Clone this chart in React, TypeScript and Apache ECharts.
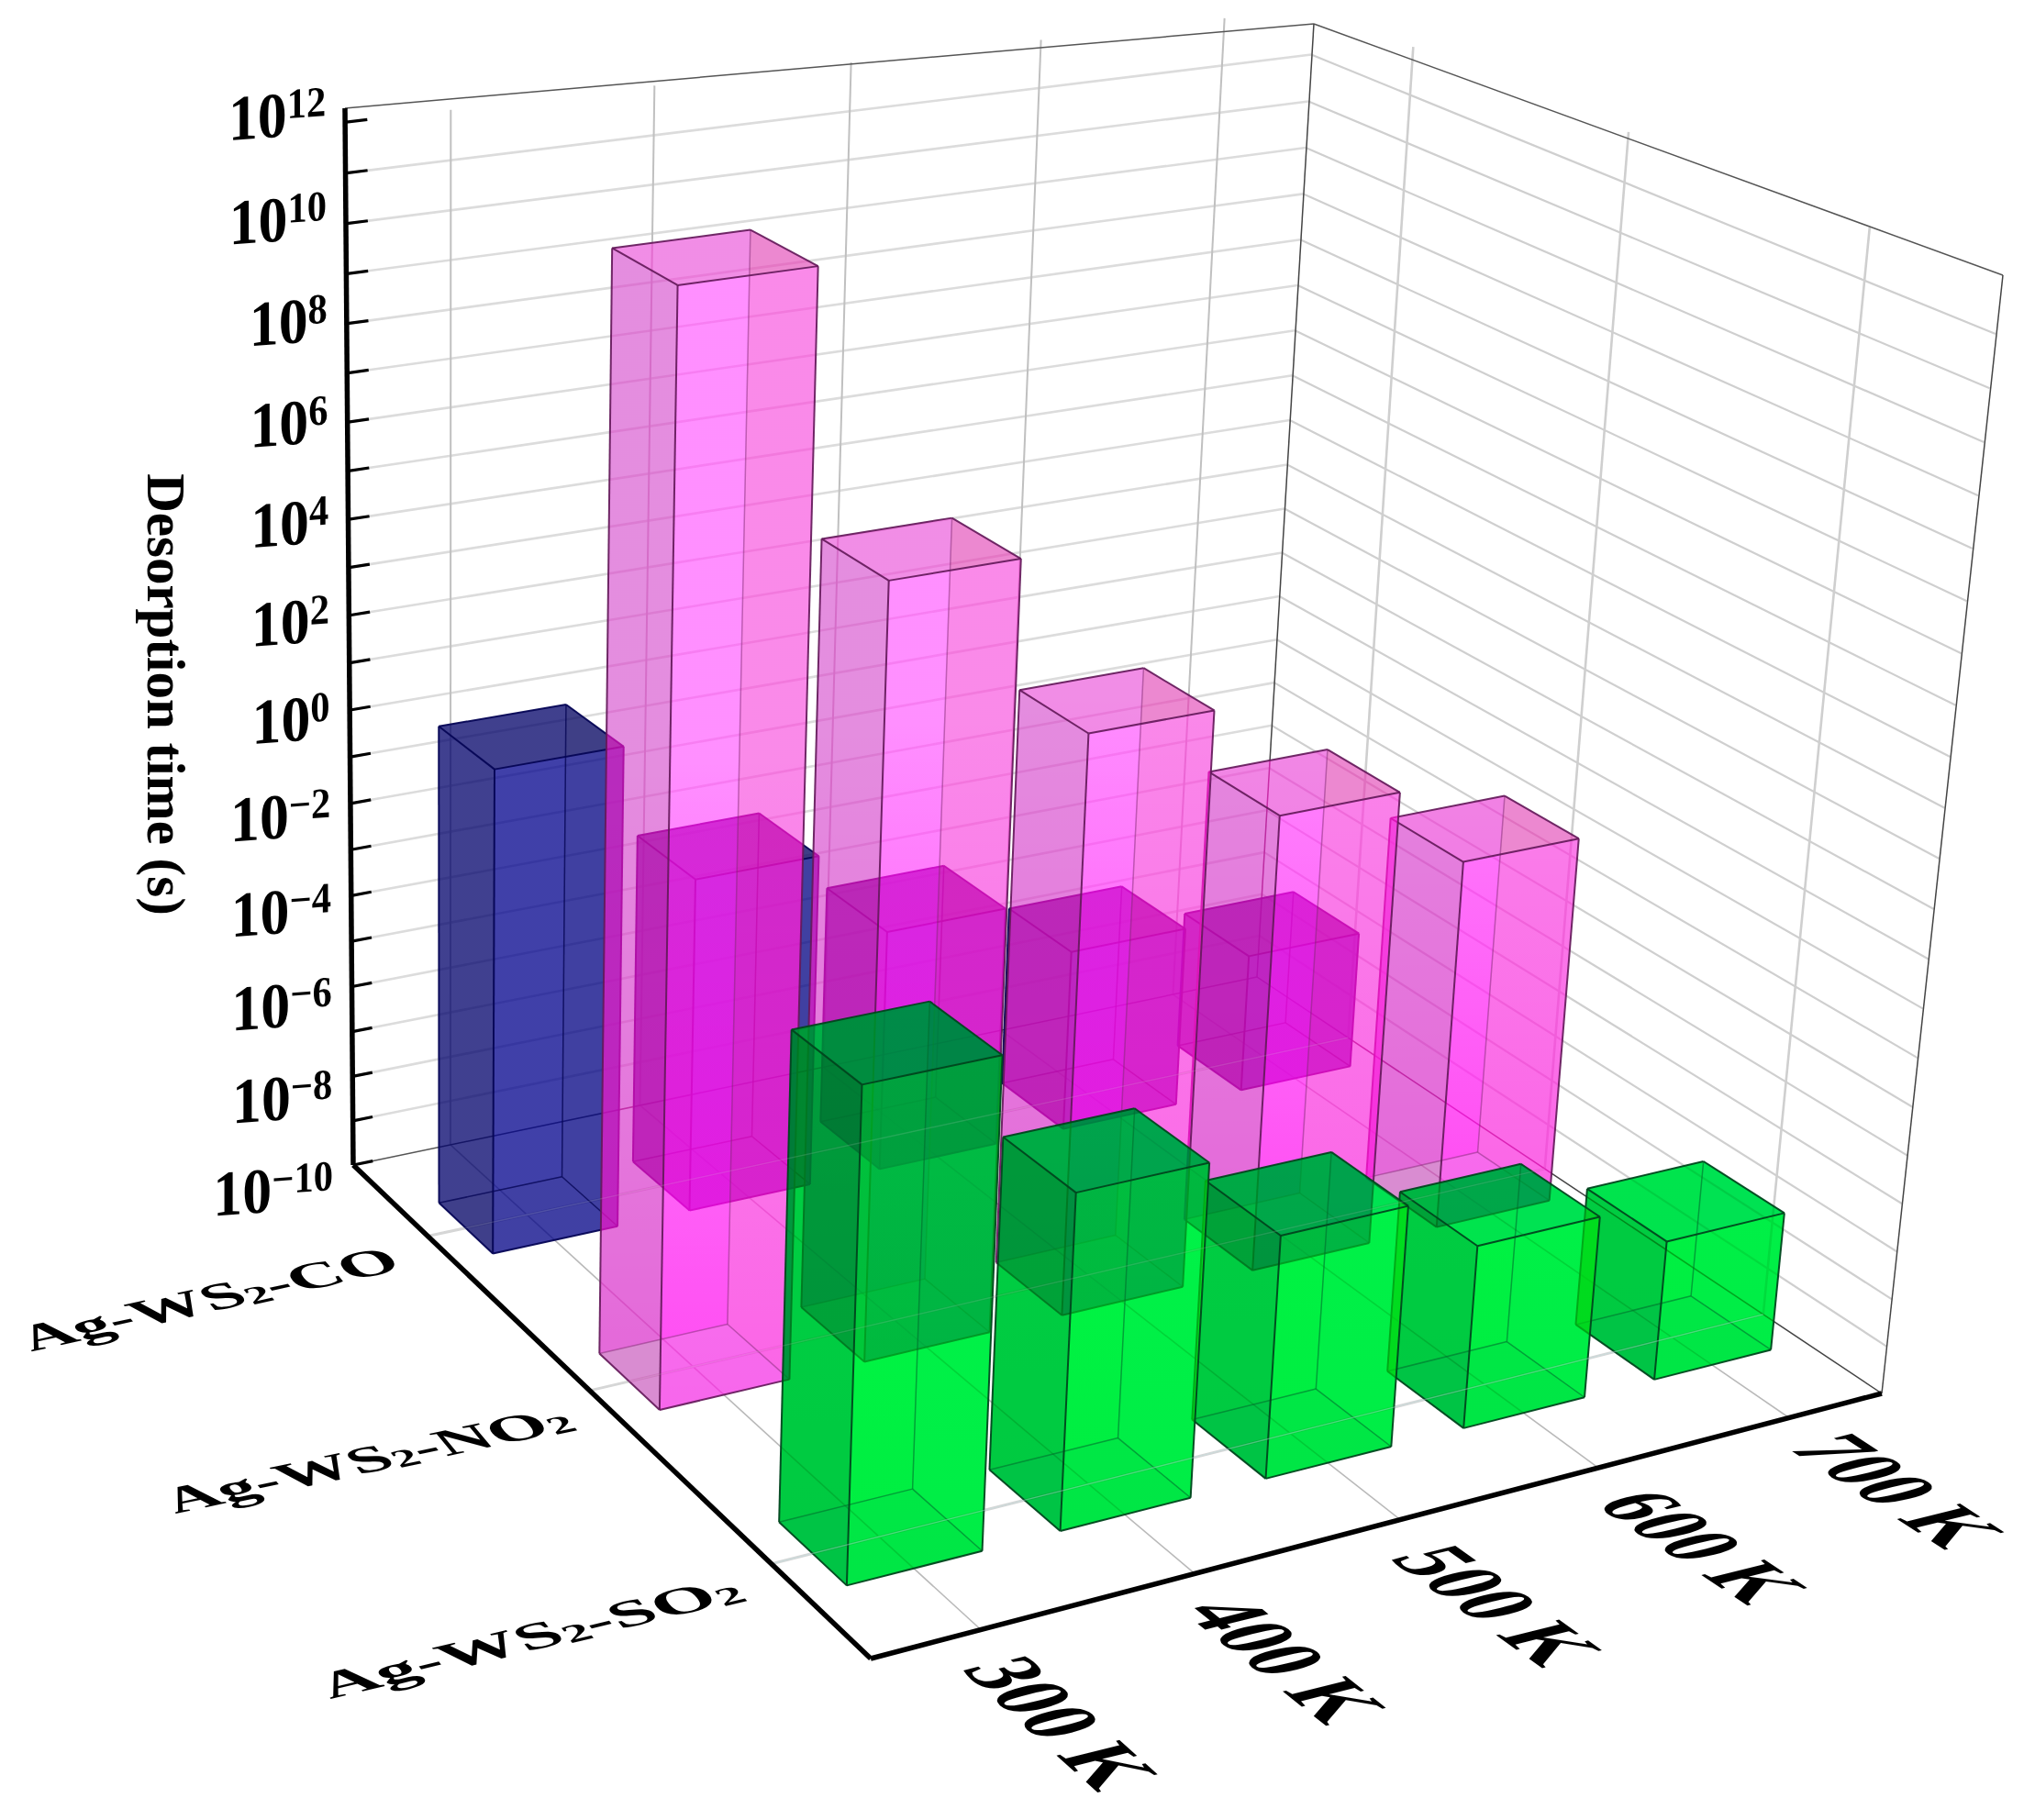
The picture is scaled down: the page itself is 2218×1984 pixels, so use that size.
import React, { useEffect, useRef } from "react";
import * as echarts from "echarts";

// ---------- data ----------
const temperatures = ["300 K", "400 K", "500 K", "600 K", "700 K"];
const gasesSub = ["CO", "NO", "SO"];
const gasSuffix = ["", "2", "2"];
const logCO = [0.34, -2.75, -4.7, -5.97, -6.9];
const logNO2 = [11.95, 5.85, 2.15, -0.28, -2.03];
const logSO2 = [-0.25, -3.23, -5.03, -6.2, -7.07];
const yExponents = [12, 10, 8, 6, 4, 2, 0, -2, -4, -6, -8, -10];
const decades = [12, 11, 10, 9, 8, 7, 6, 5, 4, 3, 2, 1, 0, -1, -2, -3, -4, -5, -6, -7, -8, -9, -10];
const yTitle = "Desorption time (s)";

// ---------- camera: box corners on the page ----------
const LOG_MIN = -10, LOG_MAX = 12;
const A = [385, 1270], B = [949, 1808], C = [2051, 1519], D = [1370, 1065];
const At = [376, 118], Dt = [1432, 26], Ct = [2183, 300];

function solve3(M: number[][], r: number[]) {
  const a = M.map((row, i) => [...row, r[i]]);
  for (let i = 0; i < 3; i++) {
    let p = i;
    for (let k = i + 1; k < 3; k++) if (Math.abs(a[k][i]) > Math.abs(a[p][i])) p = k;
    [a[i], a[p]] = [a[p], a[i]];
    for (let k = 0; k < 3; k++) {
      if (k === i) continue;
      const f = a[k][i] / a[i][i];
      for (let j = i; j < 4; j++) a[k][j] -= f * a[i][j];
    }
  }
  return [a[0][3] / a[0][0], a[1][3] / a[1][1], a[2][3] / a[2][2]];
}
const camera = (() => {
  const dx1 = D[0] - C[0], dx2 = B[0] - C[0], sx = A[0] - D[0] + C[0] - B[0];
  const dy1 = D[1] - C[1], dy2 = B[1] - C[1], sy = A[1] - D[1] + C[1] - B[1];
  const det = dx1 * dy2 - dx2 * dy1;
  const g = (sx * dy2 - dx2 * sy) / det;
  const h = (dx1 * sy - sx * dy1) / det;
  const X = [D[0] - A[0] + g * D[0], B[0] - A[0] + h * B[0], A[0]];
  const Y = [D[1] - A[1] + g * D[1], B[1] - A[1] + h * B[1], A[1]];
  const Z = [g, h, 1];
  const tops: [number, number, number[]][] = [[0, 0, At], [1, 0, Dt], [1, 1, Ct]];
  const rows: number[][] = [], rhs: number[] = [];
  tops.forEach(([u, v, p]) => {
    const bx = X[0] * u + X[1] * v + X[2], by = Y[0] * u + Y[1] * v + Y[2], bz = Z[0] * u + Z[1] * v + Z[2];
    rows.push([1, 0, -p[0]]); rhs.push(p[0] * bz - bx);
    rows.push([0, 1, -p[1]]); rhs.push(p[1] * bz - by);
  });
  const N = [0, 1, 2].map((i) => [0, 1, 2].map((j) => rows.reduce((s, r) => s + r[i] * r[j], 0)));
  const R = [0, 1, 2].map((i) => rows.reduce((s, r, k) => s + r[i] * rhs[k], 0));
  const [p1, p2, p3] = solve3(N, R);
  return { X, Y, Z, p1, p2, p3 };
})();
function project(u: number, v: number, w: number): number[] {
  const { X, Y, Z, p1, p2, p3 } = camera;
  const d = Z[0] * u + Z[1] * v + Z[2] + p3 * w;
  return [(X[0] * u + X[1] * v + X[2] + p1 * w) / d, (Y[0] * u + Y[1] * v + Y[2] + p2 * w) / d];
}
const wOf = (log: number) => (log - LOG_MIN) / (LOG_MAX - LOG_MIN);
const uCenter = (i: number) => (i + 0.5) / temperatures.length;
const vCenter = (j: number) => (j + 0.5) / gasesSub.length;
const U_HALF = 0.063, V_HALF = 0.058, U_SHIFT = 0.001;

// ---------- styles ----------
const line = (p: number[], q: number[], stroke: string, lineWidth: number) => ({
  type: "line", silent: true,
  shape: { x1: p[0], y1: p[1], x2: q[0], y2: q[1] },
  style: { stroke, lineWidth, fill: "none" },
});
const poly = (pts: number[][], fill: any) => ({
  type: "polygon", silent: true,
  shape: { points: pts },
  style: { fill, stroke: "none" },
});
const vgrad = (yTop: number, yBot: number, top: string, bot: string) =>
  new echarts.graphic.LinearGradient(0, yTop, 0, yBot, [{ offset: 0, color: top }, { offset: 1, color: bot }], true);

// SVG nodes with these exact fills get a CSS blend mode after rendering
const SCREEN_FILL = "rgb(150,20,90)";
const MULTIPLY_FILL = "rgb(0,255,140)";

type Look = {
  pre?: string;
  post?: string;
  bottom: string; right: string; left: string; top: string;
  frontTop: string; frontBot: string;
  edge: string; edgeHidden: string; edgeW: number;
};
const LOOKS: Look[] = [
  {
    bottom: "rgba(0,0,120,0.5)", right: "rgba(0,0,110,0.5)",
    left: "rgba(0,0,90,0.5)", top: "rgba(0,0,85,0.5)",
    frontTop: "rgba(0,0,140,0.5)", frontBot: "rgba(0,0,140,0.5)",
    edge: "rgba(5,5,85,0.95)", edgeHidden: "rgba(5,5,85,0.8)", edgeW: 2,
  },
  {
    pre: SCREEN_FILL,
    bottom: "rgba(200,0,180,0.26)", right: "rgba(230,0,150,0.28)",
    left: "rgba(150,0,130,0.26)", top: "rgba(200,0,160,0.26)",
    frontTop: "rgba(255,0,255,0.25)", frontBot: "rgba(255,0,235,0.46)",
    edge: "rgba(100,25,90,0.92)", edgeHidden: "rgba(130,40,115,0.5)", edgeW: 2,
  },
  {
    post: MULTIPLY_FILL,
    bottom: "rgba(0,190,40,0.34)", right: "rgba(0,225,60,0.36)",
    left: "rgba(0,140,40,0.4)", top: "rgba(0,190,80,0.34)",
    frontTop: "rgba(0,255,40,0.36)", frontBot: "rgba(0,225,40,0.4)",
    edge: "rgba(0,70,30,0.95)", edgeHidden: "rgba(0,110,45,0.6)", edgeW: 2,
  },
];

function renderBar(gas: number, params: any, api: any) {
  const i = api.value(0), log = api.value(1);
  const look = LOOKS[gas];
  const u0 = uCenter(i) + U_SHIFT - U_HALF, u1 = uCenter(i) + U_SHIFT + U_HALF;
  const v0 = vCenter(gas) - V_HALF, v1 = vCenter(gas) + V_HALF;
  const wt = wOf(log);
  const b = (u: number, v: number) => project(u, v, 0);
  const t = (u: number, v: number) => project(u, v, wt);
  const b00 = b(u0, v0), b10 = b(u1, v0), b11 = b(u1, v1), b01 = b(u0, v1);
  const t00 = t(u0, v0), t10 = t(u1, v0), t11 = t(u1, v1), t01 = t(u0, v1);
  const yBot = b01[1], yTop = project(u0, v1, 0.6)[1];
  const hull = [t00, t10, t11, b11, b01, b00];
  const kids: any[] = [];
  if (look.pre) kids.push(poly(hull, look.pre));
  const front = vgrad(yTop, yBot, look.frontTop, look.frontBot);
  kids.push(poly([b00, b10, b11, b01], look.bottom));
  kids.push(poly([t00, t10, b10, b00], front));
  kids.push(poly([t10, t11, b11, b10], look.right));
  kids.push(poly([t00, t01, b01, b00], look.left));
  kids.push(poly([t01, t11, b11, b01], front));
  kids.push(poly([t00, t10, t11, t01], look.top));
  if (look.post) kids.push(poly(hull, look.post));
  [[b00, b10], [b10, b11], [t10, b10]].forEach(([p, q]) => kids.push(line(p, q, look.edgeHidden, look.edgeW - 0.5)));
  [[t00, t10], [t10, t11], [t11, t01], [t01, t00], [t00, b00], [t01, b01], [t11, b11], [b00, b01], [b01, b11]].forEach(
    ([p, q]) => kids.push(line(p, q, look.edge, look.edgeW))
  );
  return { type: "group", children: kids };
}

function renderWalls() {
  const kids: any[] = [];
  // floor
  temperatures.forEach((_, i) => kids.push(line(project(uCenter(i), 0, 0), project(uCenter(i), 1, 0), "#b9b9b9", 1.6)));
  gasesSub.forEach((_, j) => kids.push(line(project(0, vCenter(j), 0), project(1, vCenter(j), 0), "#d6d6d6", 3)));
  // walls, horizontal
  decades.forEach((d) => {
    if (d === LOG_MIN || d === LOG_MAX) return;
    const w = wOf(d);
    kids.push(line(project(0, 0, w), project(1, 0, w), "#dcdcdc", 2.6));
    kids.push(line(project(1, 0, w), project(1, 1, w), "#cfcfcf", 2.2));
  });
  // walls, vertical
  temperatures.forEach((_, i) => kids.push(line(project(uCenter(i), 0, 0), project(uCenter(i), 0, 1), "#c0c0c0", 2)));
  gasesSub.forEach((_, j) => kids.push(line(project(1, vCenter(j), 0), project(1, vCenter(j), 1), "#cfcfcf", 2.6)));
  // box outline
  kids.push(line(At, Dt, "#555", 1.5), line(Dt, Ct, "#555", 1.5), line(Dt, D, "#444", 1.5), line(Ct, C, "#444", 1.5));
  kids.push(line(A, D, "#555", 1.5), line(D, C, "#444", 1.5));
  return { type: "group", children: kids };
}

function renderFront() {
  const kids: any[] = [];
  // floor lines shine through the bars
  gasesSub.forEach((_, j) =>
    kids.push(line(project(0, vCenter(j), 0), project(1, vCenter(j), 0), j === 2 ? "rgba(190,225,225,0.4)" : "rgba(220,225,225,0.16)", 1.4))
  );
  decades.forEach((d) => {
    const w = wOf(d);
    kids.push(line(project(0, 0, w), project(0.02, 0, w), "#000", 3.2));
  });
  kids.push(line(At, A, "#000", 5.5), line(A, B, "#000", 5.5), line(B, C, "#000", 5.5));
  return { type: "group", children: kids };
}

// reading vector a and text-down vector b, both per em, in page pixels
function sheared(a: number[], b: number[], base: number) {
  const sx = Math.hypot(a[0], a[1]) / base;
  const c = a[0] / Math.hypot(a[0], a[1]), s = a[1] / Math.hypot(a[0], a[1]);
  const bx = (b[0] * c + b[1] * s) / base, by = (-b[0] * s + b[1] * c) / base;
  return { rotation: -Math.atan2(s, c), scaleX: sx, scaleY: by, skewX: Math.atan2(bx, by) };
}

const FONT = "Liberation Serif";
const tempLayout = [
  { c: [1157, 1878], a: 42, em: 80 },
  { c: [1402, 1810], a: 38.5, em: 80 },
  { c: [1632, 1750], a: 35.5, em: 82 },
  { c: [1856, 1686], a: 33.5, em: 80 },
  { c: [2068, 1625], a: 33, em: 82 },
];
const gasLayout = [
  { c: [227, 1416], a: -12.5, em: 79 },
  { c: [400, 1591], a: -12, em: 80 },
  { c: [577, 1785], a: -13.5, em: 86 },
];

function renderLabels() {
  const kids: any[] = [];
  yExponents.forEach((e) => {
    const w = wOf(e);
    const p = project(0, 0, w);
    const rad = (-4 * Math.PI) / 180;
    const tf = sheared([64 * Math.cos(rad), 64 * Math.sin(rad)], [0, 70], 60);
    kids.push({
      type: "text", silent: true, x: p[0] - 22, y: p[1] - 11 + 34 * (1 - w), ...tf,
      style: {
        text: `{b|10}{s|${String(e).replace("-", "\u2212")}}`,
        align: "right", verticalAlign: "middle", fill: "#000",
        rich: {
          b: { fontFamily: FONT, fontWeight: "bold", fontSize: 60, lineHeight: 60, padding: [30, 0, 0, 0], verticalAlign: "bottom", fill: "#000" },
          s: { fontFamily: FONT, fontWeight: "bold", fontSize: 40, lineHeight: 40, verticalAlign: "top", fill: "#000" },
        },
      },
    });
  });
  kids.push({
    type: "text", silent: true, x: 181, y: 757, rotation: -Math.PI / 2,
    style: { text: yTitle, align: "center", verticalAlign: "middle", fontFamily: FONT, fontWeight: "bold", fontSize: 59, fill: "#000" },
  });
  temperatures.forEach((t, i) => {
    const l = tempLayout[i];
    const rad = (l.a * Math.PI) / 180;
    const tf = sheared([l.em * Math.cos(rad), l.em * Math.sin(rad)], [-0.97 * 108, 0.24 * 108], 60);
    kids.push({
      type: "text", silent: true, x: l.c[0], y: l.c[1], ...tf,
      style: { text: t, align: "center", verticalAlign: "middle", fontFamily: FONT, fontWeight: "bold", fontSize: 60, fill: "#000" },
    });
  });
  gasesSub.forEach((g, j) => {
    const l = gasLayout[j];
    const rad = (l.a * Math.PI) / 180;
    const tf = sheared([l.em * Math.cos(rad), l.em * Math.sin(rad)], [0.64 * 48, 0.77 * 48], 60);
    const tail = gasSuffix[j] ? `{n|-${g}}{s|${gasSuffix[j]}}` : `{n|-${g}}`;
    kids.push({
      type: "text", silent: true, x: l.c[0], y: l.c[1], ...tf,
      style: {
        text: `{n|Ag-WS}{s|2}${tail}`,
        align: "center", verticalAlign: "middle", fill: "#000",
        rich: {
          n: { fontFamily: FONT, fontWeight: "bold", fontSize: 60, lineHeight: 60, fill: "#000" },
          s: { fontFamily: FONT, fontWeight: "bold", fontSize: 40, lineHeight: 40, verticalAlign: "bottom", fill: "#000" },
        },
      },
    });
  });
  return { type: "group", children: kids };
}

const backToFront = (vals: number[]) => vals.map((v, i) => [i, v]).reverse();
const whole = (render: () => any, name: string) => ({
  type: "custom", name, coordinateSystem: "none", silent: true, clip: false, data: [[0]],
  renderItem: render,
});
const barSeries = (gas: number, vals: number[]) => ({
  type: "custom", name: gasesSub[gas] + gasSuffix[gas], coordinateSystem: "none", silent: true, clip: false,
  data: backToFront(vals),
  renderItem: (p: any, api: any) => renderBar(gas, p, api),
});

function applyBlends(root: HTMLElement) {
  root.querySelectorAll("path").forEach((node) => {
    const f = (node.getAttribute("fill") || "").replace(/\s/g, "");
    if (f === SCREEN_FILL) (node as any).style.mixBlendMode = "screen";
    if (f === MULTIPLY_FILL) (node as any).style.mixBlendMode = "multiply";
  });
}

export default function App() {
  const ref = useRef<HTMLDivElement>(null);
  useEffect(() => {
    document.body.style.margin = "0";
    const el = ref.current as HTMLDivElement;
    const chart = echarts.init(el, undefined, { renderer: "svg" });
    chart.on("finished", () => applyBlends(el));
    chart.setOption({
      animation: false,
      backgroundColor: "#fff",
      series: [
        whole(renderWalls, "walls"),
        barSeries(0, logCO),
        barSeries(1, logNO2),
        barSeries(2, logSO2),
        whole(renderFront, "axes"),
        whole(renderLabels, "labels"),
      ],
    });
    applyBlends(el);
    return () => chart.dispose();
  }, []);
  return <div ref={ref} style={{ width: 2218, height: 1984 }} />;
}
